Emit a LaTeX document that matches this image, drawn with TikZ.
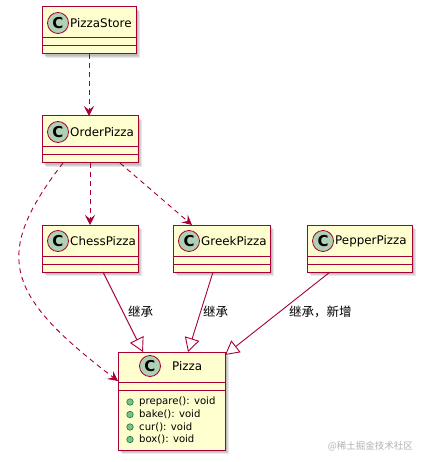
\documentclass[tikz,border=0pt]{standalone}
\usepackage{fontspec}
\setmainfont{DejaVu Sans}
\newfontfamily\cjk{Noto Sans CJK SC}
\usetikzlibrary{calc,arrows.meta}
\definecolor{umlred}{HTML}{A80036}
\definecolor{umlfill}{HTML}{FEFECE}
\definecolor{circfill}{HTML}{ADD1B2}
\definecolor{methfill}{HTML}{84BE84}
\definecolor{methdraw}{HTML}{038048}
\tikzset{
  cls/.style={rectangle, draw=umlred, fill=umlfill, line width=1pt, inner sep=0pt, outer sep=0pt},
  clsline/.style={draw=umlred, line width=1pt},
  circ/.style={circle, draw=umlred, fill=circfill, line width=0.8pt, minimum size=21pt, inner sep=0pt, font=\fontsize{15}{15}\selectfont\bfseries},
  ttl/.style={font=\fontsize{11.9}{13}\selectfont, inner sep=0pt, anchor=west},
  meth/.style={font=\fontsize{10.1}{11}\selectfont, inner sep=0pt, anchor=west},
  bul/.style={circle, fill=methfill, draw=methdraw, line width=0.6pt, minimum size=6.5pt, inner sep=0pt},
  dep/.style={umlred, line width=0.9pt, dash pattern=on 5pt off 4pt, -{Stealth[length=10pt,width=10pt,inset=4pt]}},
  inh/.style={umlred, line width=0.9pt, -{Triangle[open, length=14pt, width=15pt, fill=white]}},
  lbl/.style={font=\cjk\fontsize{12.5}{14}\selectfont, inner sep=0pt, anchor=west},
  shd/.style={black, opacity=0.09}
}
\newcommand\umlcls[6]{%
  \foreach \o in {2,3,4}{\fill[shd] (#2+\o,#3+\o) rectangle (#2+#4+\o,#3+#5+\o);}
  \node[cls, minimum width=#4pt, minimum height=#5pt, anchor=north west] (#1) at (#2,#3) {};
  \draw[clsline] ($(#1.north west)+(0,31)$) -- ($(#1.north east)+(0,31)$);
  \draw[clsline] ($(#1.north west)+(0,39)$) -- ($(#1.north east)+(0,39)$);
  \node[circ] (#1c) at ($(#1.north west)+(16,16)$) {C};
  \node[ttl] (#1t) at ($(#1.north west)+(28,16)$) {#6};
}
\begin{document}
\begin{tikzpicture}[x=1pt,y=-1pt]
\useasboundingbox (0,0) rectangle (425,462);
\fill[white] (0,0) rectangle (425,462);

\umlcls{ps}{42}{7}{94}{47}{PizzaStore}
\umlcls{op}{42}{116}{96}{47}{OrderPizza}
\umlcls{chess}{42}{225}{96}{47}{ChessPizza}
\umlcls{greek}{173}{225}{97}{47}{GreekPizza}
\umlcls{pepper}{307}{225}{105}{47}{PepperPizza}

% Pizza
\foreach \o in {2,3,4}{\fill[shd] (118+\o,352+\o) rectangle (225+\o,450+\o);}
\node[cls, minimum width=107pt, minimum height=98pt, anchor=north west] (pizza) at (118,352) {};
\draw[clsline] ($(pizza.north west)+(0,30)$) -- ($(pizza.north east)+(0,30)$);
\draw[clsline] ($(pizza.north west)+(0,38)$) -- ($(pizza.north east)+(0,38)$);
\node[circ] (pizzac) at (150,366) {C};
\node[ttl] (pizzat) at (172,366) {Pizza};
\node[bul] (b1) at (130,402) {};
\node[meth] (m1) at (139,402) {prepare(): void};
\node[bul] (b2) at (130,414.5) {};
\node[meth] (m2) at (139,414.5) {bake(): void};
\node[bul] (b3) at (130,427) {};
\node[meth] (m3) at (139,427) {cur(): void};
\node[bul] (b4) at (130,439.5) {};
\node[meth] (m4) at (139,439.5) {box(): void};

% dependencies
\draw[dep] (ps.south) -- (ps.south |- op.north);
\draw[dep] (op.south) -- (op.south |- chess.north);
\draw[dep] ($(op.south east)+(-18,0)$) -- ($(greek.north west)+(19,0)$);
\draw[dep] ($(op.south west)+(21,0)$) .. controls (-8,255) and (5,295) .. ($(pizza.north west)+(0,29)$);

% inheritance
\draw[inh] ($(chess.south west)+(61,0)$) -- ($(pizza.north west)+(25,0)$);
\draw[inh] ($(greek.south west)+(40,0)$) -- ($(pizza.north west)+(70,0)$);
\draw[inh] ($(pepper.south west)+(23,0)$) -- ($(pizza.north east)+(0,3)$);

\node[lbl] (l1) at (128,312) {继承};
\node[lbl] (l2) at (203,312) {继承};
\node[lbl] (l3) at (289,312) {继承，新增};

\node[font=\cjk\fontsize{9.5}{11}\selectfont, text=black!30, inner sep=0pt, anchor=east] (wm) at (413,446) {@稀土掘金技术社区};
\end{tikzpicture}
\end{document}
